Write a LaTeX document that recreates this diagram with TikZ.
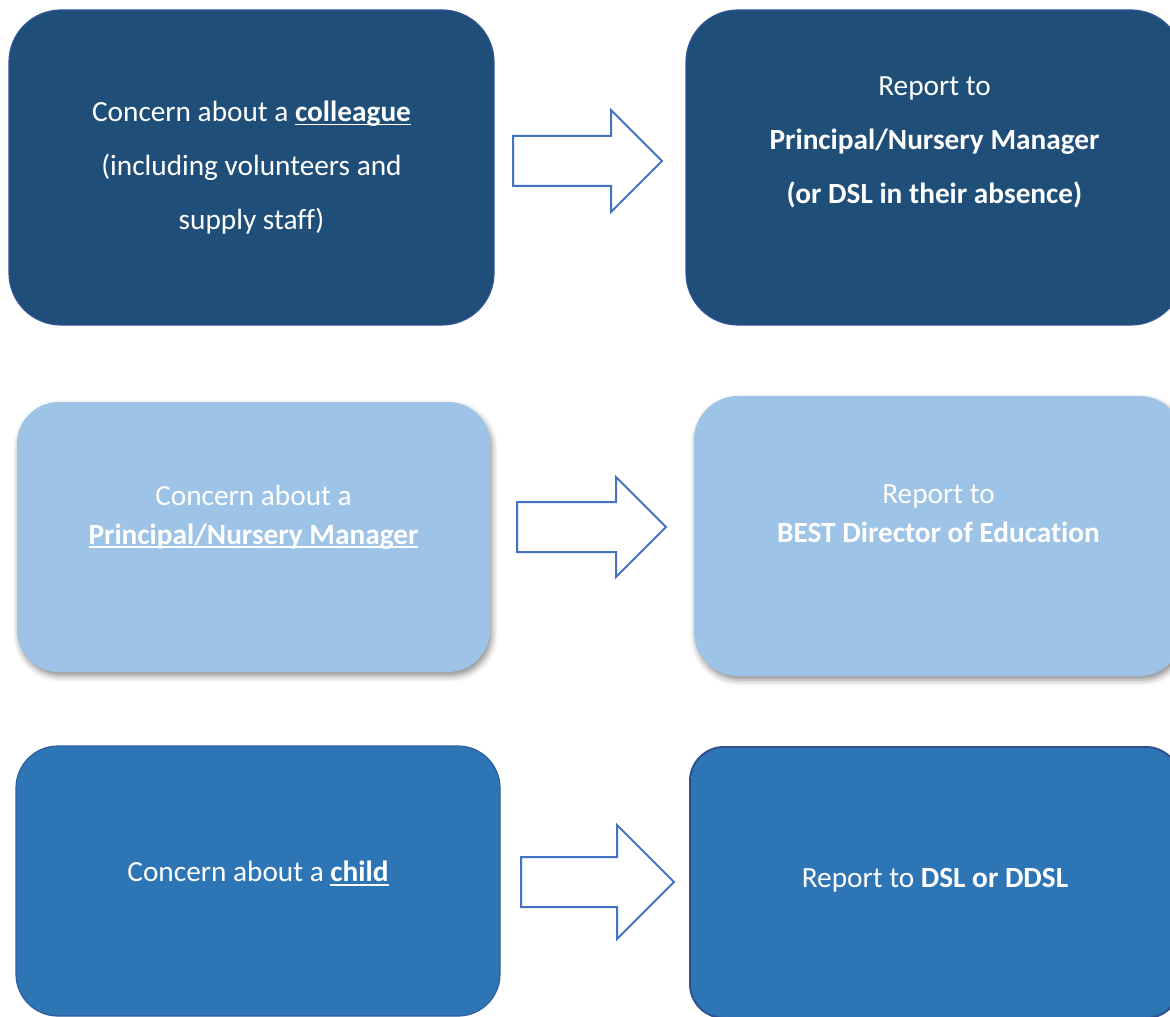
\documentclass[tikz,border=0pt]{standalone}
\usepackage{fontspec}
\setmainfont[Ligatures=NoCommon]{Carlito}
\usetikzlibrary{positioning, shapes.arrows, shadows.blur}
\definecolor{navybox}{HTML}{1F4E79}
\definecolor{navyline}{HTML}{2F5597}
\definecolor{palebox}{HTML}{9DC3E6}
\definecolor{midbox}{HTML}{2E75B6}
\definecolor{midline}{HTML}{2F528F}
\definecolor{arrowblue}{HTML}{4472C4}
% underline just below the baseline
\newcommand{\undl}[1]{\setbox0\hbox{#1}\rlap{\rule[-2pt]{\wd0}{0.9pt}}\box0}

\begin{document}
\begin{tikzpicture}[x=0.5pt, y=-0.5pt,
    box/.style={align=center, text=white, inner sep=0pt,
      font=\fontsize{14.65}{27}\selectfont},
    blockarrow/.style={single arrow, draw=arrowblue, fill=white, line width=1pt,
      inner xsep=0pt, inner ysep=12pt, minimum width=0pt, anchor=tail}]
  \useasboundingbox (0,0) rectangle (1170,1016);

  % row 1: concern about a colleague
  \node[box, fill=navybox, draw=navyline, line width=0.6pt, rounded corners=26pt,
        minimum width=242.5pt, minimum height=157.5pt] (colleague) at (251.5,167.5)
    {Concern about a \undl{\textbf{colleague}}\\ (including volunteers and\\ supply staff)};
  \node[box, fill=navybox, draw=navyline, line width=0.6pt, rounded corners=26pt,
        minimum width=248.5pt, minimum height=157.5pt] (colleaguerep) at (934.5,167.5)
    {Report to\\ \textbf{Principal/Nursery Manager}\\ \textbf{(or DSL in their absence)}\\ \mbox{}};
  \node[blockarrow, minimum height=74.5pt, single arrow head extend=13pt] (arr1) at (512,161) {};

  % row 2: concern about the principal
  \node[box, fill=palebox, rounded corners=21pt,
        blur shadow={shadow xshift=1pt, shadow yshift=-2pt, shadow blur radius=3pt, shadow opacity=45},
        minimum width=236.5pt, minimum height=135pt,
        font=\fontsize{14.65}{19.5}\selectfont] (principal) at (253.5,537)
    {Concern about a\\ \undl{\textbf{Principal/Nursery Manager}}\\[3pt] \mbox{}};
  \node[box, fill=palebox, rounded corners=22pt,
        blur shadow={shadow xshift=1pt, shadow yshift=-2pt, shadow blur radius=3pt, shadow opacity=45},
        minimum width=244.5pt, minimum height=140pt,
        font=\fontsize{14.65}{19.5}\selectfont] (principalrep) at (938.5,536)
    {Report to\\ \textbf{BEST Director of Education}\\[3pt] \mbox{}};
  \node[blockarrow, minimum height=74.5pt, single arrow head extend=12.5pt] (arr2) at (516,527) {};

  % row 3: concern about a child
  \node[box, fill=midbox, draw=midline!70!midbox, line width=0.6pt, rounded corners=21pt,
        minimum width=242pt, minimum height=135pt, text height=10pt, text depth=9.3pt] (child) at (258,881)
    {Concern about a \undl{\textbf{child}}};
  \node[box, fill=midbox, draw=midline, line width=1pt, rounded corners=17pt,
        minimum width=245pt, minimum height=135.5pt, text height=10pt, text depth=5.3pt] (childrep) at (935,882.5)
    {Report to \textbf{DSL or DDSL}};
  \node[blockarrow, minimum height=76.5pt, single arrow head extend=16pt] (arr3) at (520,882) {};
\end{tikzpicture}
\end{document}
